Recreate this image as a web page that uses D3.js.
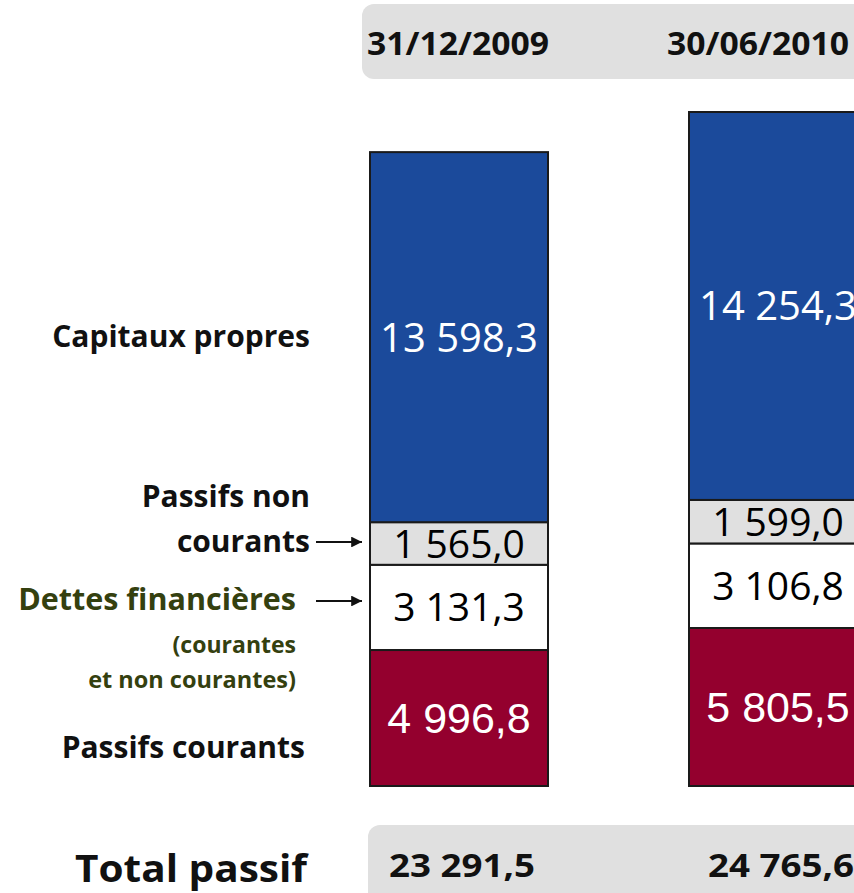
<!DOCTYPE html>
<html lang="fr">
<head>
    <meta charset="UTF-8">
    <title>Total passif</title>
    <script src="https://d3js.org/d3.v7.min.js"></script>
    <style>
        body {
            margin: 0;
            background-color: white;
        }
        svg {
            display: block;
        }
        .label-bold {
            font-family: 'Open Sans', sans-serif;
            font-weight: bold;
        }
    </style>
</head>
<body>
    <div id="chart"></div>

    <script>
        // Data (millions)
        const periods = ["31/12/2009", "30/06/2010"];
        const passifsCourants = [4996.8, 5805.5];
        const dettesFinancieres = [3131.3, 3106.8];
        const passifsNonCourants = [1565.0, 1599.0];
        const capitauxPropres = [13598.3, 14254.3];
        const totalPassif = [23291.5, 24765.6];

        const keys = ["courants", "dettes", "nonCourants", "capitaux"];

        const rows = periods.map((p, i) => ({
            period: p,
            courants: passifsCourants[i],
            dettes: dettesFinancieres[i],
            nonCourants: passifsNonCourants[i],
            capitaux: capitauxPropres[i]
        }));

        const width = 854;
        const height = 893;
        const barWidth = 178;

        const fr = d3.formatLocale({ decimal: ",", thousands: " ", grouping: [3], currency: ["", " €"] });
        const fmt = fr.format(",.1f");

        const segStyle = {
            capitaux:    { fill: "#1b4a9b", text: "white", font: "'Open Sans', sans-serif", size: 40 },
            nonCourants: { fill: "#e0e0e0", text: "black", font: "'Open Sans', sans-serif", size: 39 },
            dettes:      { fill: "#ffffff", text: "black", font: "'Open Sans', sans-serif", size: 39 },
            courants:    { fill: "#94002e", text: "white", font: "'Liberation Sans', Arial, sans-serif", size: 43 }
        };

        const svg = d3.select("#chart")
            .append("svg")
            .attr("width", width)
            .attr("height", height);

        const x = d3.scalePoint()
            .domain(periods)
            .range([459, 778]);

        const y = d3.scaleLinear()
            .domain([0, d3.max(totalPassif)])
            .range([786, 112]);

        // grey header band and bottom total band
        svg.append("rect")
            .attr("x", 362).attr("y", 4)
            .attr("width", 540).attr("height", 75)
            .attr("rx", 12)
            .attr("fill", "#e0e0e0");

        svg.append("rect")
            .attr("x", 368).attr("y", 825)
            .attr("width", 540).attr("height", 100)
            .attr("rx", 12)
            .attr("fill", "#e0e0e0");

        // header dates
        const headerX = d3.scalePoint().domain(periods).range([458, 758]);
        svg.selectAll(".header")
            .data(periods)
            .enter()
            .append("text")
            .attr("class", "header label-bold")
            .attr("x", d => headerX(d))
            .attr("y", 55)
            .attr("text-anchor", "middle")
            .attr("font-size", 32)
            .attr("textLength", 182)
            .attr("lengthAdjust", "spacingAndGlyphs")
            .attr("fill", "#111")
            .text(d => d);

        // stacked bars
        const stacked = d3.stack().keys(keys)(rows);

        const layers = svg.selectAll(".layer")
            .data(stacked)
            .enter()
            .append("g")
            .attr("class", "layer");

        layers.selectAll("rect")
            .data(s => s.map(d => ({ key: s.key, d })))
            .enter()
            .append("rect")
            .attr("x", v => x(v.d.data.period) - barWidth / 2)
            .attr("y", v => y(v.d[1]))
            .attr("width", barWidth)
            .attr("height", v => y(v.d[0]) - y(v.d[1]))
            .attr("fill", v => segStyle[v.key].fill)
            .attr("stroke", "#1a1a1a")
            .attr("stroke-width", 2);

        layers.selectAll("text")
            .data(s => s.map(d => ({ key: s.key, d })))
            .enter()
            .append("text")
            .attr("x", v => x(v.d.data.period))
            .attr("y", v => (y(v.d[0]) + y(v.d[1])) / 2)
            .attr("dy", "0.36em")
            .attr("text-anchor", "middle")
            .attr("font-family", v => segStyle[v.key].font)
            .attr("font-size", v => segStyle[v.key].size)
            .attr("fill", v => segStyle[v.key].text)
            .text(v => fmt(v.d.data[v.key]));

        // totals
        svg.selectAll(".total")
            .data(totalPassif)
            .enter()
            .append("text")
            .attr("class", "total label-bold")
            .attr("x", (d, i) => x(periods[i]) + 3)
            .attr("y", 877)
            .attr("text-anchor", "middle")
            .attr("font-size", 33)
            .attr("textLength", 146)
            .attr("lengthAdjust", "spacingAndGlyphs")
            .attr("fill", "#111")
            .text(d => fmt(d));

        svg.append("text")
            .attr("class", "label-bold")
            .attr("x", 307)
            .attr("y", 882)
            .attr("text-anchor", "end")
            .attr("font-size", 38)
            .attr("textLength", 232)
            .attr("lengthAdjust", "spacingAndGlyphs")
            .attr("fill", "#111")
            .text("Total passif");

        // left-hand category labels
        const olive = "#34400f";
        const leftLabels = [
            { text: "Capitaux propres", x: 310, y: 347, size: 30, color: "#111" },
            { text: "Passifs non", x: 310, y: 507, size: 30, color: "#111" },
            { text: "courants", x: 310, y: 552, size: 30, color: "#111" },
            { text: "Dettes financières", x: 296, y: 610, size: 30.5, color: olive },
            { text: "(courantes", x: 296, y: 653, size: 23, color: olive },
            { text: "et non courantes)", x: 296, y: 688, size: 23.5, color: olive },
            { text: "Passifs courants", x: 305, y: 758, size: 30, color: "#111" }
        ];

        svg.selectAll(".left-label")
            .data(leftLabels)
            .enter()
            .append("text")
            .attr("class", "left-label label-bold")
            .attr("x", d => d.x)
            .attr("y", d => d.y)
            .attr("text-anchor", "end")
            .attr("font-size", d => d.size)
            .attr("fill", d => d.color)
            .text(d => d.text);

        // arrows pointing to the first bar
        svg.append("defs").append("marker")
            .attr("id", "arrow")
            .attr("viewBox", "0 0 10 10")
            .attr("refX", 10).attr("refY", 5)
            .attr("markerWidth", 7).attr("markerHeight", 6)
            .attr("markerUnits", "strokeWidth")
            .attr("orient", "auto")
            .append("path")
            .attr("d", "M0,0 L10,5 L0,10 Z")
            .attr("fill", "#111");

        [542, 601].forEach(ay => {
            svg.append("line")
                .attr("x1", 316).attr("x2", 362)
                .attr("y1", ay).attr("y2", ay)
                .attr("stroke", "#111")
                .attr("stroke-width", 1.8)
                .attr("marker-end", "url(#arrow)");
        });
    </script>
</body>
</html>
